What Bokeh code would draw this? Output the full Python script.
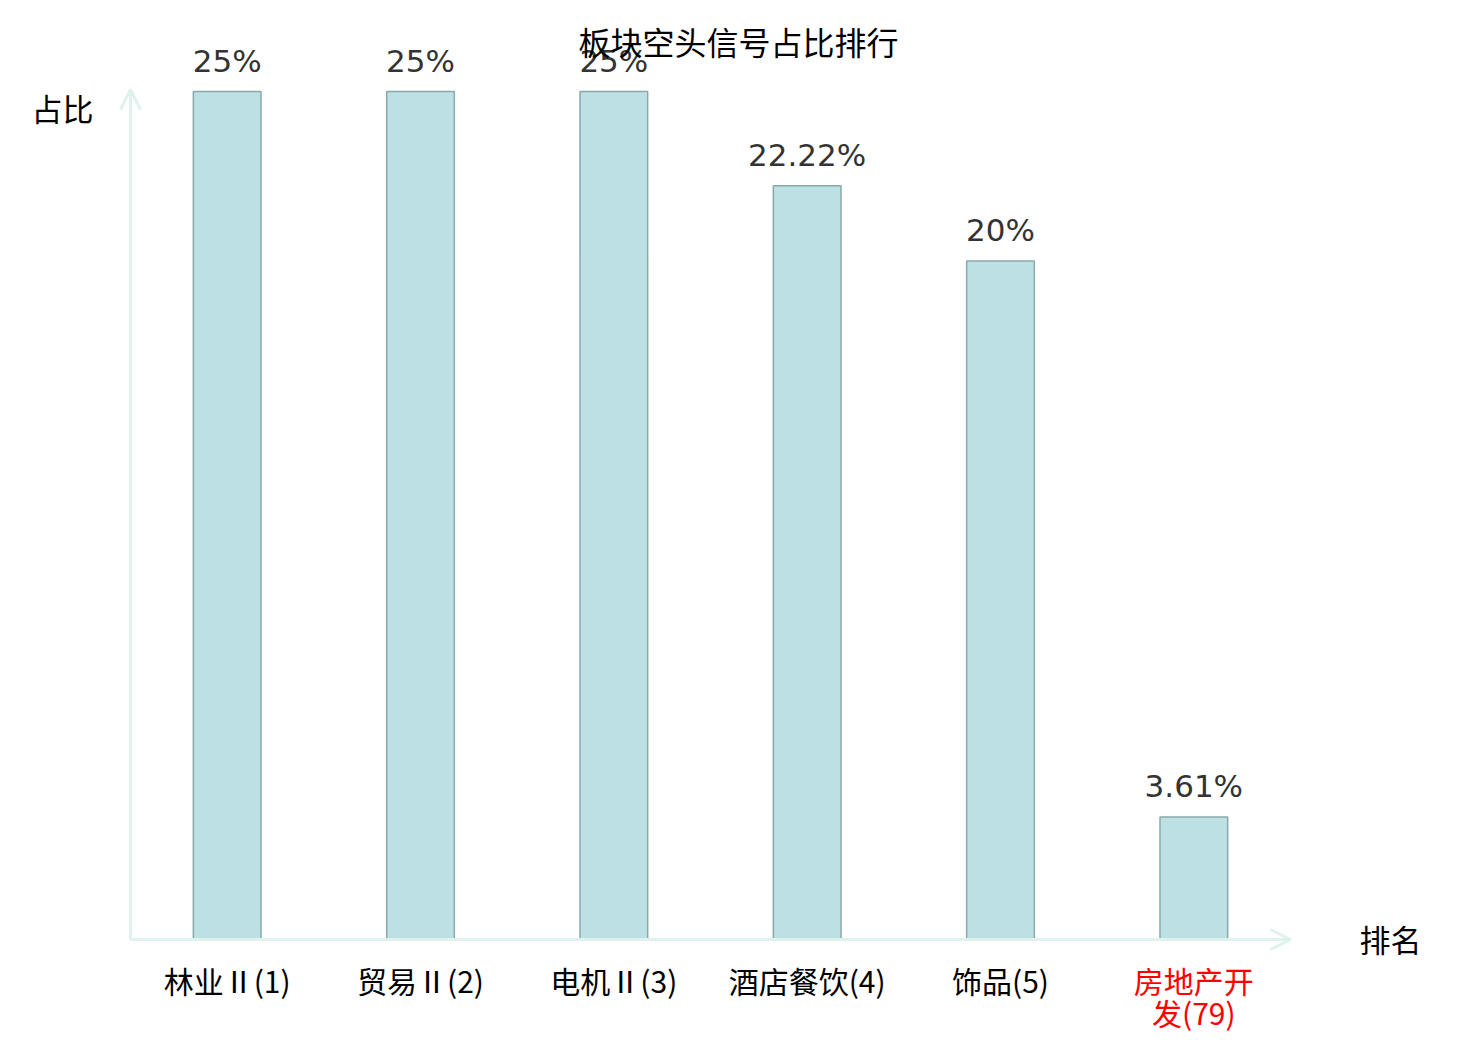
from bokeh.plotting import figure
from bokeh.models import FactorRange, Range1d, ColumnDataSource, LabelSet, Label, Arrow, OpenHead
from bokeh.core.properties import value
from bokeh.embed import file_html
from bokeh.resources import INLINE

# ---- data ----
categories = ["林业Ⅱ(1)", "贸易Ⅱ(2)", "电机Ⅱ(3)", "酒店餐饮(4)", "饰品(5)", "房地产开发(79)"]
label_line1 = ["林业Ⅱ(1)", "贸易Ⅱ(2)", "电机Ⅱ(3)", "酒店餐饮(4)", "饰品(5)", "房地产开"]
label_line2 = ["", "", "", "", "", "发(79)"]
label_colors = ["#000000", "#000000", "#000000", "#000000", "#000000", "#ff0000"]
values = [25, 25, 25, 22.22, 20, 3.61]
value_texts = ["25%", "25%", "25%", "22.22%", "20%", "3.61%"]
title_text = "板块空头信号占比排行"
y_name = "占比"
x_name = "排名"

CJK = "Noto Sans CJK SC"
NUM = "DejaVu Sans"
AXIS_COLOR = "#dff2ef"

# layout geometry (pixels)
W, H = 1464, 1032
PLOT_LEFT, PLOT_RIGHT = 130, 1290      # where the category band begins / ends
PLOT_TOP, PLOT_BOTTOM = 91, 939        # y = 25 / y = 0
FRAME_W = 2 * PLOT_LEFT + (PLOT_RIGHT - PLOT_LEFT)
n = len(categories)
unit_px = (PLOT_RIGHT - PLOT_LEFT) / n
pad_units = PLOT_LEFT / unit_px
y_max = 25
py_per_unit = (PLOT_BOTTOM - PLOT_TOP) / y_max

def sx(px):
    return (px - PLOT_LEFT) / unit_px

def sy(py):
    return (PLOT_BOTTOM - py) / py_per_unit

p = figure(
    width=W, height=H,
    x_range=FactorRange(*categories, range_padding=2 * pad_units / n, range_padding_units="percent"),
    y_range=Range1d(-(H - PLOT_BOTTOM) / py_per_unit, y_max + PLOT_TOP / py_per_unit),
    output_backend="svg", toolbar_location=None,
    min_border_left=0, min_border_right=W - FRAME_W, min_border_top=0, min_border_bottom=0,
)
p.outline_line_color = None
p.xgrid.grid_line_color = None
p.ygrid.grid_line_color = None
p.xaxis.visible = False
p.yaxis.visible = False
p.background_fill_color = "white"
p.border_fill_color = "white"

src = ColumnDataSource(dict(cat=categories, val=values, vtxt=value_texts,
                            l1=label_line1, l2=label_line2, col=label_colors, zero=[0] * n))

# axis lines with arrow heads
head_kw = dict(size=20, line_color=AXIS_COLOR, line_width=3)
p.add_layout(Arrow(end=OpenHead(**head_kw), x_start=0, y_start=0, x_end=0, y_end=y_max + 2 / py_per_unit,
                   line_color=AXIS_COLOR, line_width=3))
p.add_layout(Arrow(end=OpenHead(**head_kw), x_start=0, y_start=0, x_end=n, y_end=0,
                   line_color=AXIS_COLOR, line_width=3))

p.vbar(x="cat", top="val", width=0.35, source=src,
       fill_color="#bce0e3", line_color="#8aa9aa", line_width=1.5)

p.add_layout(LabelSet(x="cat", y="val", text="vtxt", source=src,
                      text_align="center", text_baseline="bottom", y_offset=13,
                      text_font=value(NUM), text_font_size=value("31px"), text_color="#333333"))

for txt, off in (("l1", -18), ("l2", -50)):
    p.add_layout(LabelSet(x="cat", y="zero", text=txt, source=src,
                          text_align="center", text_baseline="top", y_offset=off,
                          text_font=value(CJK), text_font_size=value("30px"), text_color="col"))

p.add_layout(Label(x=sx(738), y=sy(40), text=title_text,
                   text_align="center", text_baseline="middle",
                   text_font=CJK, text_font_size="32px", text_color="#000000"))
p.add_layout(Label(x=sx(62), y=sy(107), text=y_name,
                   text_align="center", text_baseline="middle",
                   text_font=CJK, text_font_size="31px", text_color="#000000"))
p.add_layout(Label(x=sx(1390), y=sy(938), text=x_name,
                   text_align="center", text_baseline="middle",
                   text_font=CJK, text_font_size="31px", text_color="#000000"))

open("out.html", "w").write(file_html(p, INLINE))
